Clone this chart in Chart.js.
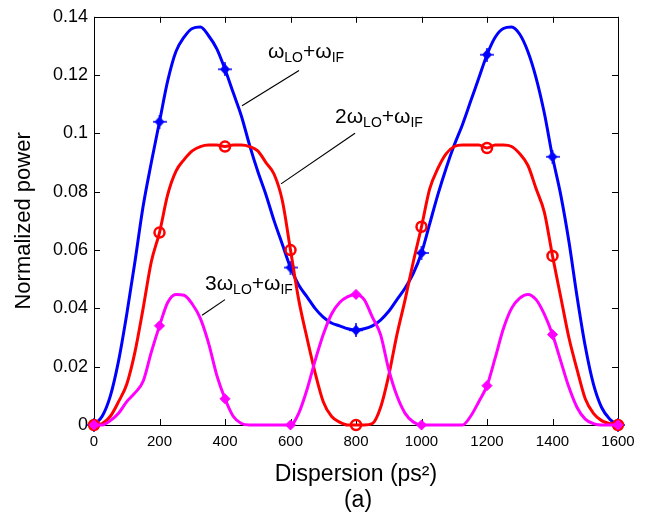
<!DOCTYPE html>
<html>
<head>
<meta charset="utf-8">
<script src="https://cdn.jsdelivr.net/npm/chart.js@4.4.1/dist/chart.umd.min.js"></script>
<style>
  html, body { margin: 0; padding: 0; background: #fff; }
  #wrap { width: 658px; height: 518px; }
</style>
</head>
<body>
<div id="wrap"><canvas id="chart"></canvas></div>
<script>
// dispersion (ps^2)
const dispersion = [0, 25, 50, 75, 100, 125, 150, 175, 200, 225, 250, 275, 300, 325, 350, 375,
  400, 425, 450, 475, 500, 525, 550, 575, 600, 625, 650, 675, 700, 725, 750, 775,
  800, 825, 850, 875, 900, 925, 950, 975, 1000, 1025, 1050, 1075, 1100, 1125, 1150, 1175,
  1200, 1225, 1250, 1275, 1300, 1325, 1350, 1375, 1400, 1425, 1450, 1475, 1500, 1525, 1550, 1575, 1600];

// wLO + wIF
const firstOrder = [0, 0.003, 0.010, 0.022, 0.038, 0.056, 0.075, 0.090, 0.104, 0.118, 0.128, 0.133, 0.136, 0.1365, 0.1335, 0.129,
  0.122, 0.114, 0.106, 0.096, 0.087, 0.079, 0.070, 0.062, 0.054, 0.048, 0.044, 0.040, 0.037, 0.035, 0.034, 0.033,
  0.0325, 0.033, 0.034, 0.036, 0.039, 0.043, 0.047, 0.052, 0.059, 0.069, 0.079, 0.088, 0.096, 0.103, 0.111, 0.119,
  0.127, 0.133, 0.136, 0.1365, 0.134, 0.128, 0.119, 0.107, 0.092, 0.079, 0.063, 0.044, 0.027, 0.014, 0.006, 0.002, 0];

// 2wLO + wIF
const secondOrder = [0, 0.0005, 0.003, 0.008, 0.014, 0.025, 0.040, 0.056, 0.066, 0.079, 0.087, 0.091, 0.094, 0.0955, 0.096, 0.096,
  0.0955, 0.096, 0.096, 0.0955, 0.094, 0.090, 0.086, 0.077, 0.060, 0.043, 0.030, 0.018, 0.008, 0.003, 0.001, 0,
  0, 0, 0.0005, 0.006, 0.017, 0.031, 0.043, 0.056, 0.068, 0.081, 0.088, 0.093, 0.0955, 0.096, 0.096, 0.096,
  0.095, 0.096, 0.096, 0.0955, 0.093, 0.089, 0.081, 0.073, 0.058, 0.044, 0.030, 0.019, 0.009, 0.004, 0.0015, 0.0005, 0];

// 3wLO + wIF
const thirdOrder = [0, 0, 0.0015, 0.004, 0.008, 0.011, 0.015, 0.025, 0.034, 0.042, 0.0448, 0.0445, 0.0415, 0.0365, 0.028, 0.017,
  0.009, 0.003, 0.0005, 0, 0, 0, 0, 0, 0, 0.004, 0.012, 0.022, 0.031, 0.038, 0.042, 0.044,
  0.0448, 0.043, 0.037, 0.031, 0.019, 0.010, 0.004, 0.001, 0, 0, 0, 0, 0, 0, 0.003, 0.008,
  0.0135, 0.023, 0.033, 0.040, 0.0435, 0.0448, 0.043, 0.038, 0.031, 0.022, 0.013, 0.006, 0.002, 0.0005, 0, 0, 0];

const xTicks = [0, 200, 400, 600, 800, 1000, 1200, 1400, 1600];
const xTickLabels = ['0', '200', '400', '600', '800', '1000', '1200', '1400', '1600'];
const yTicks = [0, 0.02, 0.04, 0.06, 0.08, 0.1, 0.12, 0.14];
const yTickLabels = ['0', '0.02', '0.04', '0.06', '0.08', '0.1', '0.12', '0.14'];

// curve labels: text pieces [text, isSubscript], anchor (data units), leader line (data units)
const curveLabels = [
  { parts: [['ω', 0], ['LO', 1], ['+ω', 0], ['IF', 1]], x: 531, y: 0.1257, line: [626, 0.1216, 452, 0.1095] },
  { parts: [['2ω', 0], ['LO', 1], ['+ω', 0], ['IF', 1]], x: 736, y: 0.1035, line: [797, 0.1001, 571, 0.0827] },
  { parts: [['3ω', 0], ['LO', 1], ['+ω', 0], ['IF', 1]], x: 339, y: 0.0464, line: [400, 0.0430, 330, 0.0376] }
];

const FONT = '"Liberation Sans", Arial, Helvetica, sans-serif';

function pts(values) {
  return dispersion.map((d, i) => ({ x: d, y: values[i] }));
}

function markerRadius(c) {
  return dispersion[c.dataIndex] % 200 === 0 ? 5 : 0;
}

// filled diamond with a cross through it, like the blue markers
function makeStar(color) {
  const c = document.createElement('canvas');
  c.width = 14; c.height = 14;
  const g = c.getContext('2d');
  g.fillStyle = color;
  g.strokeStyle = color;
  g.beginPath();
  g.moveTo(7, 1.5); g.lineTo(12, 7); g.lineTo(7, 12.5); g.lineTo(2, 7);
  g.closePath();
  g.fill();
  g.lineWidth = 1.5;
  g.beginPath();
  g.moveTo(7, 0); g.lineTo(7, 14);
  g.moveTo(0, 7); g.lineTo(14, 7);
  g.stroke();
  return c;
}

const frame = {
  id: 'frame',
  beforeDatasetsDraw(chart) {
    const { ctx, chartArea: a, scales: { x, y } } = chart;
    ctx.save();
    ctx.strokeStyle = '#000';
    ctx.lineWidth = 1;
    ctx.strokeRect(Math.round(a.left) + 0.5, Math.round(a.top) + 0.5,
      Math.round(a.right - a.left), Math.round(a.bottom - a.top));
    const len = 6;
    ctx.beginPath();
    xTicks.forEach(v => {
      const px = Math.round(x.getPixelForValue(v)) + 0.5;
      ctx.moveTo(px, a.bottom); ctx.lineTo(px, a.bottom - len);
      ctx.moveTo(px, a.top); ctx.lineTo(px, a.top + len);
    });
    yTicks.forEach(v => {
      const py = Math.round(y.getPixelForValue(v)) + 0.5;
      ctx.moveTo(a.left, py); ctx.lineTo(a.left + len, py);
      ctx.moveTo(a.right, py); ctx.lineTo(a.right - len, py);
    });
    ctx.stroke();
    ctx.restore();
  },
  afterDatasetsDraw(chart) {
    const { ctx, chartArea: a, scales: { x, y } } = chart;
    ctx.save();
    ctx.fillStyle = '#000';
    ctx.strokeStyle = '#000';
    ctx.lineWidth = 1.2;
    ctx.textBaseline = 'alphabetic';
    curveLabels.forEach(l => {
      const [x1, y1, x2, y2] = l.line;
      ctx.beginPath();
      ctx.moveTo(x.getPixelForValue(x1), y.getPixelForValue(y1));
      ctx.lineTo(x.getPixelForValue(x2), y.getPixelForValue(y2));
      ctx.stroke();
      let px = x.getPixelForValue(l.x);
      const py = y.getPixelForValue(l.y);
      l.parts.forEach(([t, sub]) => {
        ctx.font = sub ? '14px ' + FONT : '21px ' + FONT;
        ctx.fillText(t, px, sub ? py + 4 : py);
        px += ctx.measureText(t).width;
      });
    });
    ctx.font = '23px ' + FONT;
    ctx.textAlign = 'center';
    ctx.textBaseline = 'middle';
    ctx.fillText('(a)', (a.left + a.right) / 2 + 2, a.bottom + 76);
    ctx.restore();
  }
};

new Chart(document.getElementById('chart'), {
  type: 'line',
  data: {
    datasets: [{
      label: '3ωLO+ωIF',
      data: pts(thirdOrder),
      borderColor: '#ff00ff',
      backgroundColor: '#ff00ff',
      borderWidth: 3,
      cubicInterpolationMode: 'monotone',
      pointStyle: 'rectRot',
      pointRadius: markerRadius,
      pointBorderWidth: 1,
      clip: false
    }, {
      label: '2ωLO+ωIF',
      data: pts(secondOrder),
      borderColor: '#ff0000',
      backgroundColor: 'rgba(0,0,0,0)',
      borderWidth: 3,
      cubicInterpolationMode: 'monotone',
      pointStyle: 'circle',
      pointRadius: markerRadius,
      pointBorderWidth: 2.5,
      pointBorderColor: '#ff0000',
      pointBackgroundColor: 'rgba(0,0,0,0)',
      clip: false
    }, {
      label: 'ωLO+ωIF',
      data: pts(firstOrder),
      borderColor: '#0000ff',
      backgroundColor: '#0000ff',
      borderWidth: 3,
      cubicInterpolationMode: 'monotone',
      pointStyle: makeStar('#0000ff'),
      pointRadius: markerRadius,
      clip: false
    }]
  },
  options: {
    responsive: true,
    maintainAspectRatio: false,
    animation: false,
    events: [],
    layout: { padding: { top: 9, right: 40, left: 0, bottom: 0 } },
    plugins: {
      legend: { display: false },
      tooltip: { enabled: false }
    },
    scales: {
      x: {
        type: 'linear',
        min: 0,
        max: 1600,
        afterFit: s => { s.height = 93; },
        afterBuildTicks: s => { s.ticks = xTicks.map(v => ({ value: v })); },
        grid: { display: false, drawTicks: false },
        border: { display: false },
        ticks: {
          color: '#000',
          padding: 8,
          maxRotation: 0,
          font: { family: FONT, size: 15 },
          callback: (v, i) => xTickLabels[i]
        },
        title: {
          display: true,
          text: 'Dispersion (ps²)',
          color: '#000',
          font: { family: FONT, size: 23 },
          padding: { top: 0, bottom: 30 }
        }
      },
      y: {
        min: 0,
        max: 0.14,
        afterFit: s => { s.width = 94; },
        afterBuildTicks: s => { s.ticks = yTicks.map(v => ({ value: v })); },
        grid: { display: false, drawTicks: false },
        border: { display: false },
        ticks: {
          color: '#000',
          padding: 6,
          font: { family: FONT, size: 18 },
          callback: (v, i) => yTickLabels[i]
        },
        title: {
          display: true,
          text: 'Normalized power',
          color: '#000',
          font: { family: FONT, size: 22 },
          padding: { top: 11, bottom: 0 }
        }
      }
    }
  },
  plugins: [frame]
});
</script>
</body>
</html>
